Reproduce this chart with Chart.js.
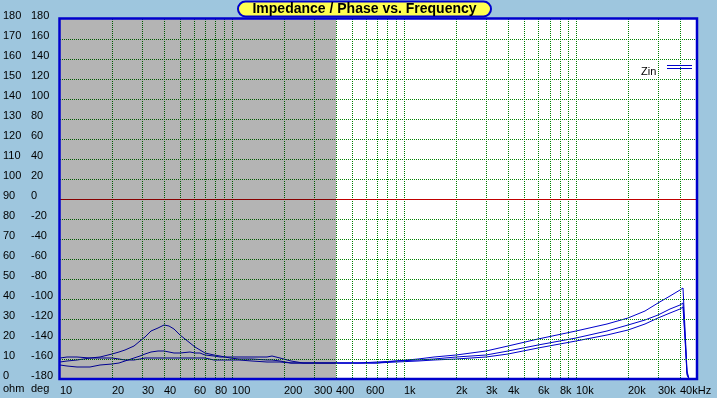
<!DOCTYPE html>
<html><head><meta charset="utf-8">
<script src="https://cdn.jsdelivr.net/npm/chart.js"></script>
<style>html,body{margin:0;padding:0;background:#9EC6DE;overflow:hidden}canvas{display:block}</style>
</head><body>
<canvas id="c" width="717" height="398"></canvas>
<script>
const titleText = 'Impedance / Phase vs. Frequency';
const legendLabel = 'Zin';
const ohmUnit = 'ohm';
const degUnit = 'deg';
const maskEndHz = 400;

const freqHz = [10, 11, 12.5, 15, 17, 20, 22, 24, 27, 29, 31, 34, 37, 40, 43, 46, 50, 57, 61, 65,
  70, 78, 85, 97, 110, 130, 160, 170, 190, 220, 260, 300, 400, 550, 700, 900, 1200, 1500, 2000, 3000,
  4000, 6000, 10000, 15000, 20000, 25000, 30000, 35000, 40000, 41500, 43000, 44000, 45000];

const zinA = [8.3, 8.8, 9.4, 10.3, 10.9, 12.2, 13.2, 14.5, 16.5, 18.7, 21.0, 23.7, 25.4, 27.0, 26.4, 25.0, 22.0, 17.8, 16.0, 14.5,
  13.0, 11.6, 11.2, 10.3, 9.8, 9.6, 9.5, 9.4, 8.7, 8.0, 7.8, 7.7, 7.6, 8.0, 8.2, 9.0, 10.0, 10.8, 12.0, 14.0,
  16.2, 19.8, 24.0, 27.5, 30.5, 34.0, 38.0, 41.5, 44.5, 45.5, 25.0, 4.0, 0];

const zinB = [10.3, 10.7, 10.7, 10.3, 10.3, 10.2, 9.6, 9.5, 9.5, 9.6, 10.3, 10.3, 10.3, 10.3, 10.3, 10.3, 10.3, 10.3, 10.3, 10.3,
  10.2, 9.5, 9.5, 9.4, 9.2, 9.0, 8.3, 8.3, 8.2, 7.8, 7.7, 7.6, 7.6, 7.8, 8.0, 8.6, 9.3, 10.0, 10.8, 12.0,
  14.0, 17.0, 20.5, 24.0, 27.0, 29.5, 32.0, 35.0, 37.0, 38.0, 22.0, 3.0, 0];

const zinC = [7.0, 6.3, 5.7, 5.7, 6.7, 7.3, 8.0, 8.7, 10.2, 11.2, 12.2, 13.3, 14.0, 14.0, 13.5, 12.9, 12.8, 13.2, 13.0, 12.6,
  12.0, 11.2, 11.0, 10.7, 10.7, 10.7, 10.7, 11.2, 10.3, 8.7, 7.9, 7.7, 7.6, 7.8, 8.0, 8.4, 9.0, 9.5, 9.8, 11.0,
  12.5, 15.5, 19.0, 22.0, 24.5, 27.5, 30.5, 33.0, 35.0, 36.0, 20.0, 2.0, 0];

const gridFreqs = [10, 20, 30, 40, 50, 60, 70, 80, 90, 100, 200, 300, 400, 500, 600, 700, 800, 900,
  1000, 2000, 3000, 4000, 5000, 6000, 7000, 8000, 9000, 10000, 20000, 30000, 40000];
const labelFreqs = [10, 20, 30, 40, 60, 80, 100, 200, 300, 400, 600, 1000, 2000, 3000, 4000, 6000, 8000, 10000, 20000, 30000, 40000];
const labelTexts = ['10', '20', '30', '40', '60', '80', '100', '200', '300', '400', '600', '1k', '2k', '3k', '4k', '6k', '8k', '10k', '20k', '30k', '40kHz'];

const BG = '#9EC6DE';
const LINE = '#0000CC';
const GRID = 'rgb(0,128,0)';
const ZERO = 'rgb(192,0,0)';
const FONT = 'Liberation Sans, Arial, sans-serif';

function toPoints(ys) { return freqHz.map((f, i) => ({x: f, y: ys[i]})); }

const decor = {
  id: 'decor',
  beforeDraw(chart) {
    const {ctx, chartArea: a} = chart;
    ctx.save();
    ctx.fillStyle = BG;
    ctx.fillRect(0, 0, chart.width, chart.height);
    ctx.fillStyle = '#ffffff';
    ctx.fillRect(a.left, a.top, a.right - a.left, a.bottom - a.top);
    ctx.restore();
  },
  afterDraw(chart) {
    const {ctx, chartArea: a} = chart;
    const xs = chart.scales.x, ys = chart.scales.deg;
    const top = Math.ceil(a.top), bot = Math.floor(a.bottom), lft = Math.ceil(a.left), rgt = Math.floor(a.right);
    ctx.save();
    ctx.fillStyle = GRID;
    for (const t of xs.ticks) {
      const x = Math.round(xs.getPixelForValue(t.value));
      if (x <= lft + 1 || x >= rgt - 1) continue;
      for (let y = top; y < bot; y += 2) ctx.fillRect(x, y, 1, 1);
    }
    for (const t of ys.ticks) {
      if (t.value === 0) continue;
      const y = Math.round(ys.getPixelForValue(t.value));
      if (y <= top + 1 || y >= bot - 1) continue;
      for (let x = lft; x < rgt; x += 2) ctx.fillRect(x, y, 1, 1);
    }
    ctx.fillStyle = ZERO;
    ctx.fillRect(lft, Math.round(ys.getPixelForValue(0)), rgt - lft, 1);
    const x1 = xs.getPixelForValue(maskEndHz);
    ctx.globalCompositeOperation = 'multiply';
    ctx.fillStyle = '#b4b4b4';
    ctx.fillRect(a.left, a.top, x1 - a.left, a.bottom - a.top);
    ctx.globalCompositeOperation = 'source-over';

    ctx.strokeStyle = LINE;
    ctx.lineWidth = 2.5;
    ctx.strokeRect(a.left - 0.5, a.top - 0.5, a.right - a.left + 1, a.bottom - a.top + 1);
    const px = 238, py = 1.5, pw = 253, ph = 15, r = 7.5;
    ctx.beginPath();
    ctx.moveTo(px + r, py);
    ctx.lineTo(px + pw - r, py);
    ctx.arc(px + pw - r, py + r, r, -Math.PI / 2, Math.PI / 2);
    ctx.lineTo(px + r, py + ph);
    ctx.arc(px + r, py + r, r, Math.PI / 2, Math.PI * 1.5);
    ctx.closePath();
    ctx.fillStyle = '#FFFF50';
    ctx.fill();
    ctx.lineWidth = 2;
    ctx.strokeStyle = LINE;
    ctx.stroke();
    ctx.fillStyle = '#000';
    ctx.font = 'bold 14px ' + FONT;
    ctx.textAlign = 'center';
    ctx.textBaseline = 'middle';
    ctx.fillText(titleText, px + pw / 2, 9.5);
    ctx.font = '11px ' + FONT;
    ctx.textAlign = 'left';
    ctx.fillText(legendLabel, 641, 72);
    ctx.fillStyle = LINE;
    ctx.fillRect(667, 65, 25, 1);
    ctx.fillRect(667, 68, 25, 1);
    ctx.fillStyle = '#000';
    ctx.fillText(ohmUnit, 3, 389);
    ctx.fillText(degUnit, 31, 389);
    ctx.restore();
  }
};

const ds = (data) => ({data: toPoints(data), yAxisID: 'ohm', borderColor: LINE, borderWidth: 1, pointRadius: 0, tension: 0, fill: false});

new Chart(document.getElementById('c'), {
  type: 'line',
  data: {datasets: [ds(zinA), ds(zinB), ds(zinC)]},
  plugins: [decor],
  options: {
    responsive: false,
    animation: false,
    devicePixelRatio: 1,
    layout: {padding: {top: 19, left: 3, right: 20.5, bottom: 0}},
    plugins: {legend: {display: false}, tooltip: {enabled: false}, title: {display: false}},
    scales: {
      x: {
        type: 'logarithmic', position: 'bottom', min: 10, max: 50000, alignToPixels: true,
        afterBuildTicks(s) { s.ticks = gridFreqs.map(v => ({value: v})); },
        afterFit(s) { s.height = 19.5; s.paddingLeft = 0; s.paddingRight = 0; },
        grid: {display: false, drawTicks: false, tickLength: 0},
        border: {display: false},
        ticks: {
          autoSkip: false, maxRotation: 0, minRotation: 0, align: 'start', padding: 6,
          color: '#000', font: {family: FONT, size: 11},
          callback(v) { const i = labelFreqs.indexOf(v); return i >= 0 ? labelTexts[i] : ''; }
        }
      },
      ohm: {
        type: 'linear', position: 'left', weight: 2, min: 0, max: 180, alignToPixels: true,
        afterFit(s) { s.width = 28; s.paddingTop = 0; s.paddingBottom = 0; },
        grid: {display: false, drawTicks: false},
        border: {display: false},
        ticks: {stepSize: 10, crossAlign: 'far', labelOffset: -3, padding: 0, color: '#000', font: {family: FONT, size: 11}}
      },
      deg: {
        type: 'linear', position: 'left', weight: 1, min: -180, max: 180, alignToPixels: true,
        afterFit(s) { s.width = 29; s.paddingTop = 0; s.paddingBottom = 0; },
        grid: {display: false, drawTicks: false, tickLength: 0},
        border: {display: false},
        ticks: {stepSize: 20, crossAlign: 'far', labelOffset: -3, padding: 0, color: '#000', font: {family: FONT, size: 11}}
      }
    }
  }
});
</script>
</body></html>
